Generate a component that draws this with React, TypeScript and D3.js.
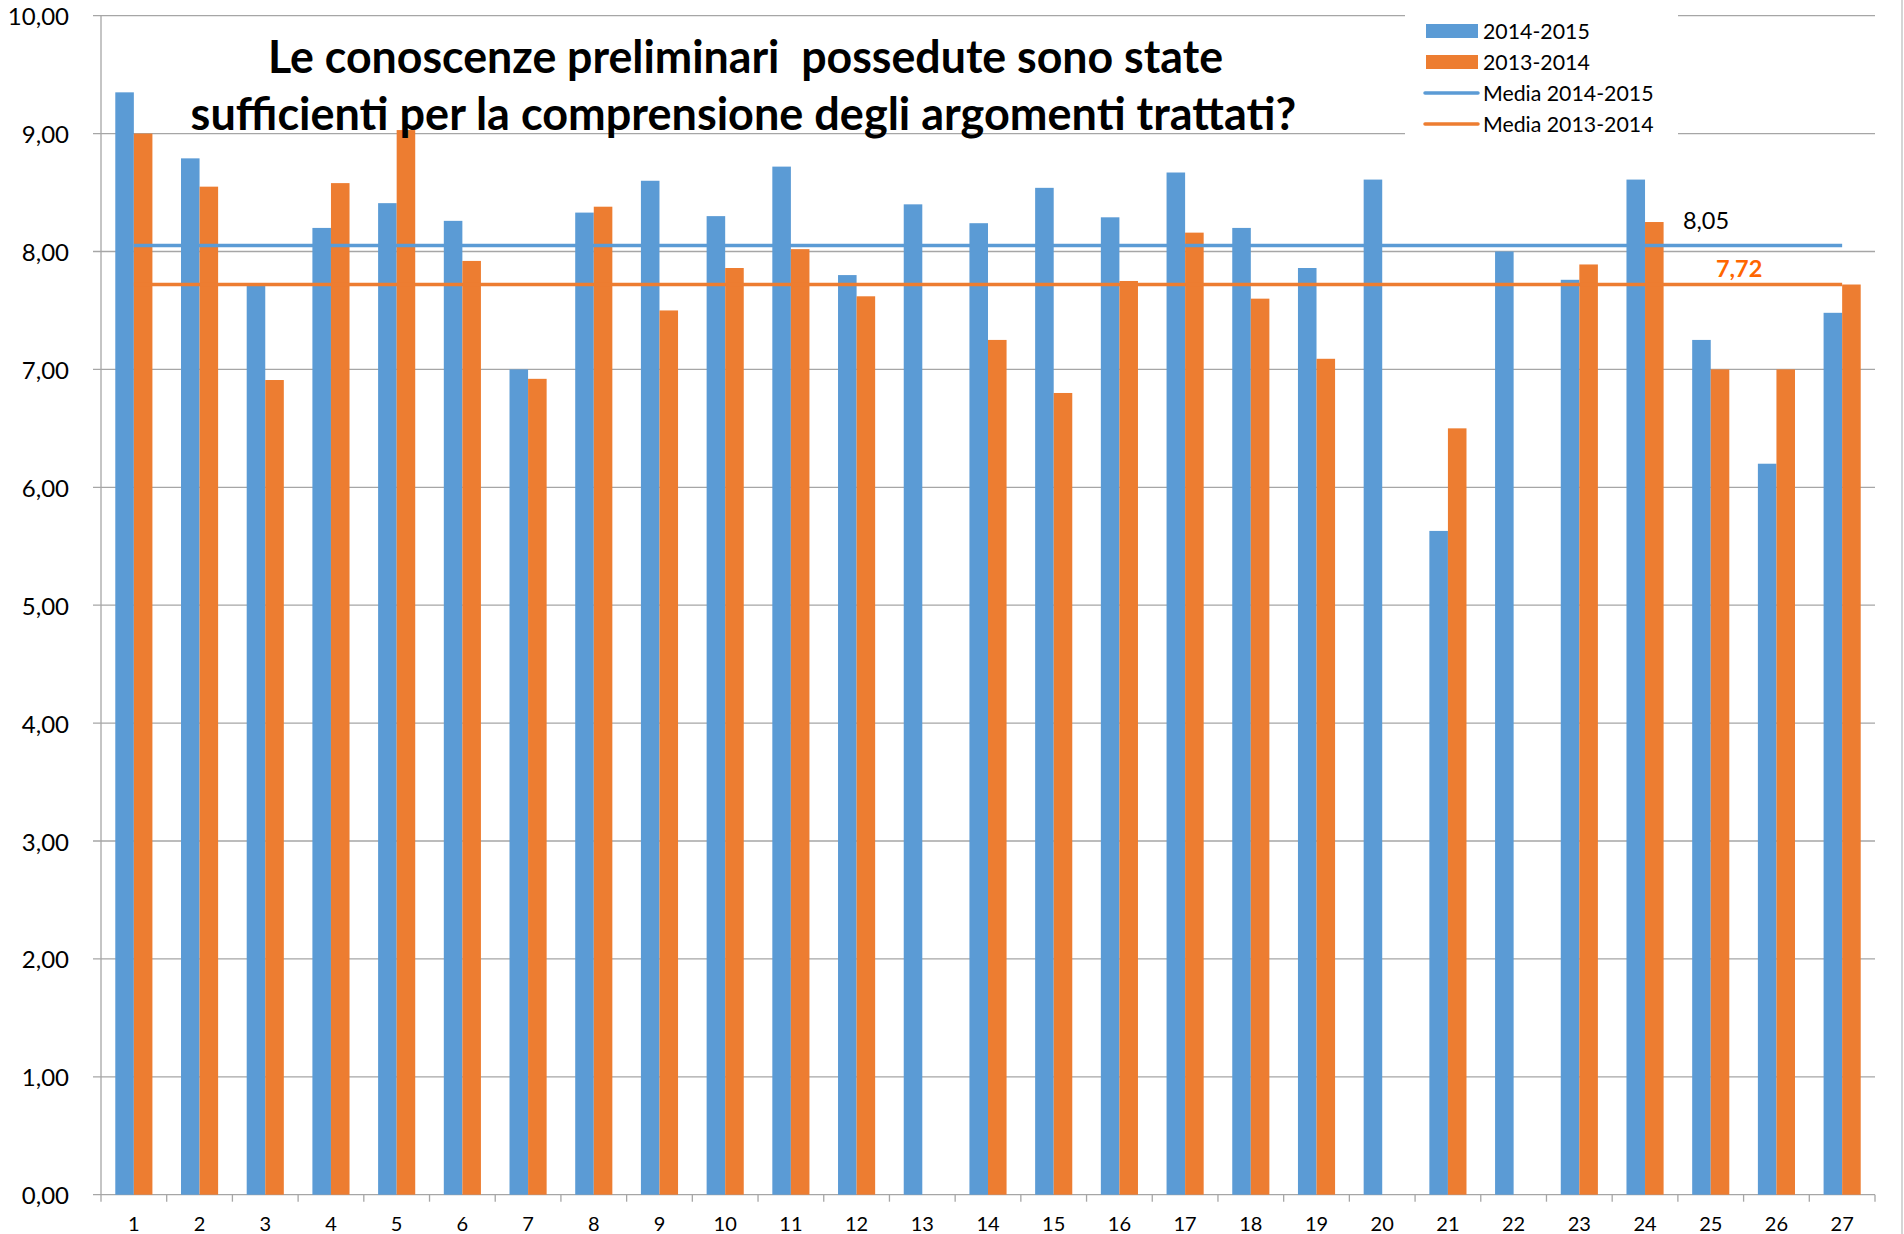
import React from "react";
import * as d3 from "d3";

const categories = ["1","2","3","4","5","6","7","8","9","10","11","12","13","14","15","16","17","18","19","20","21","22","23","24","25","26","27"];
const series2015: (number | null)[] = [9.35,8.79,7.71,8.20,8.41,8.26,7.00,8.33,8.60,8.30,8.72,7.80,8.40,8.24,8.54,8.29,8.67,8.20,7.86,8.61,5.63,8.00,7.76,8.61,7.25,6.20,7.48];
const series2014: (number | null)[] = [9.00,8.55,6.91,8.58,9.03,7.92,6.92,8.38,7.50,7.86,8.02,7.62,null,7.25,6.80,7.75,8.16,7.60,7.09,null,6.50,null,7.89,8.25,7.00,7.00,7.72];
const mean2015 = 8.05;
const mean2014 = 7.72;
const yTicks = [0,1,2,3,4,5,6,7,8,9,10];
const seriesNames = ["2014-2015", "2013-2014"];
const legendLabels = ["2014-2015", "2013-2014", "Media 2014-2015", "Media 2013-2014"];
const titleLines = ["Le conoscenze preliminari  possedute sono state", "sufficienti per la comprensione degli argomenti trattati?"];

const BLUE = "#5B9BD5";
const ORANGE = "#ED7D31";
const GRID = "#A6A6A6";
const FONT = "Lato, 'Open Sans', sans-serif";

export default function App() {
  const W = 1904, H = 1234;
  const left = 101, right = 1875, top = 15.7, bottom = 1194.7;
  const x = d3.scaleBand<string>().domain(categories).range([left, right]).padding(0);
  const y = d3.scaleLinear().domain([0, 10]).range([bottom, top]);
  const band = x.bandwidth();
  const groupW = band * 0.565;
  const x1 = d3.scaleBand<string>().domain(seriesNames).range([0, groupW]).padding(0);
  const fmt = (v: number) => v.toFixed(2).replace(".", ",");
  const cx = (c: string) => (x(c) as number) + band / 2;
  const data = [series2015, series2014];
  const colors = [BLUE, ORANGE];
  const lineStart = cx(categories[0]);
  const lineEnd = cx(categories[categories.length - 1]);
  const lblX = x("25") as number;
  const titleBoxes = [
    { x0: 268, w: 955 },
    { x0: 190.6, w: 1105.6 },
  ];

  return (
    <svg width={W} height={H} style={{ position: "absolute", left: 0, top: 0, background: "#fff" }} fontFamily={FONT}>
      <rect x={0} y={0} width={W} height={H} fill="#fff" />
      {/* gridlines */}
      {yTicks.map((t) => (
        <line key={"g" + t} x1={left - 8} x2={right} y1={y(t)} y2={y(t)} stroke={GRID} strokeWidth={1.3} />
      ))}
      {/* y axis */}
      <line x1={left} x2={left} y1={top} y2={bottom} stroke={GRID} strokeWidth={1.3} />
      {yTicks.map((t) => (
        <text key={"yl" + t} x={69} y={y(t)} textAnchor="end" dominantBaseline="central" fontSize={24} fill="#000">
          {fmt(t)}
        </text>
      ))}
      {/* x ticks */}
      {categories.concat(["end"]).map((c, i) => {
        const xx = left + i * band;
        return <line key={"xt" + i} x1={xx} x2={xx} y1={bottom} y2={bottom + 7} stroke={GRID} strokeWidth={1.3} />;
      })}
      {categories.map((c) => (
        <text key={"xl" + c} x={cx(c)} y={1223} textAnchor="middle" dominantBaseline="central" fontSize={20} fill="#000">
          {c}
        </text>
      ))}
      {/* bars */}
      {data.map((s, si) =>
        s.map((v, i) =>
          v == null ? null : (
            <rect
              key={"b" + si + "-" + i}
              x={(x(categories[i]) as number) + (band - groupW) / 2 + (x1(seriesNames[si]) as number)}
              y={y(v)}
              width={x1.bandwidth()}
              height={y(0) - y(v)}
              fill={colors[si]}
            />
          )
        )
      )}
      {/* mean lines */}
      <line x1={lineStart} x2={lineEnd} y1={y(mean2015)} y2={y(mean2015)} stroke={BLUE} strokeWidth={3.5} />
      <line x1={lineStart} x2={lineEnd} y1={y(mean2014)} y2={y(mean2014)} stroke={ORANGE} strokeWidth={3.5} />
      <text x={lblX + 5} y={y(mean2015) - 17} fontSize={23.5} fill="#000">{fmt(mean2015)}</text>
      <text x={lblX + 38} y={y(mean2014) - 8} fontSize={23.5} fontWeight="bold" fill="#FF6600">{fmt(mean2014)}</text>
      {/* title */}
      {titleLines.map((t, i) => (
        <text
          key={"t" + i}
          x={titleBoxes[i].x0}
          y={72.7 + i * 57.5}
          textLength={titleBoxes[i].w}
          lengthAdjust="spacingAndGlyphs"
          xmlSpace="preserve"
          style={{ whiteSpace: "pre" }}
          fontSize={45}
          fontWeight="bold"
          fill="#000"
        >
          {t}
        </text>
      ))}
      {/* legend */}
      <rect x={1405} y={8} width={273} height={134} fill="#fff" />
      {legendLabels.map((l, i) => {
        const yy = 31 + i * 31;
        return (
          <g key={"lg" + i}>
            {i < 2 ? (
              <rect x={1426} y={yy - 7} width={52} height={14} fill={colors[i]} />
            ) : (
              <line x1={1425} x2={1478} y1={yy} y2={yy} stroke={colors[i - 2]} strokeWidth={3.5} strokeLinecap="round" />
            )}
            <text x={1483} y={yy} dominantBaseline="central" fontSize={21.3} fill="#000">{l}</text>
          </g>
        );
      })}
      {/* frame right edge */}
      <line x1={1902} x2={1902} y1={0} y2={H} stroke="#BFBFBF" strokeWidth={1.3} />
    </svg>
  );
}
